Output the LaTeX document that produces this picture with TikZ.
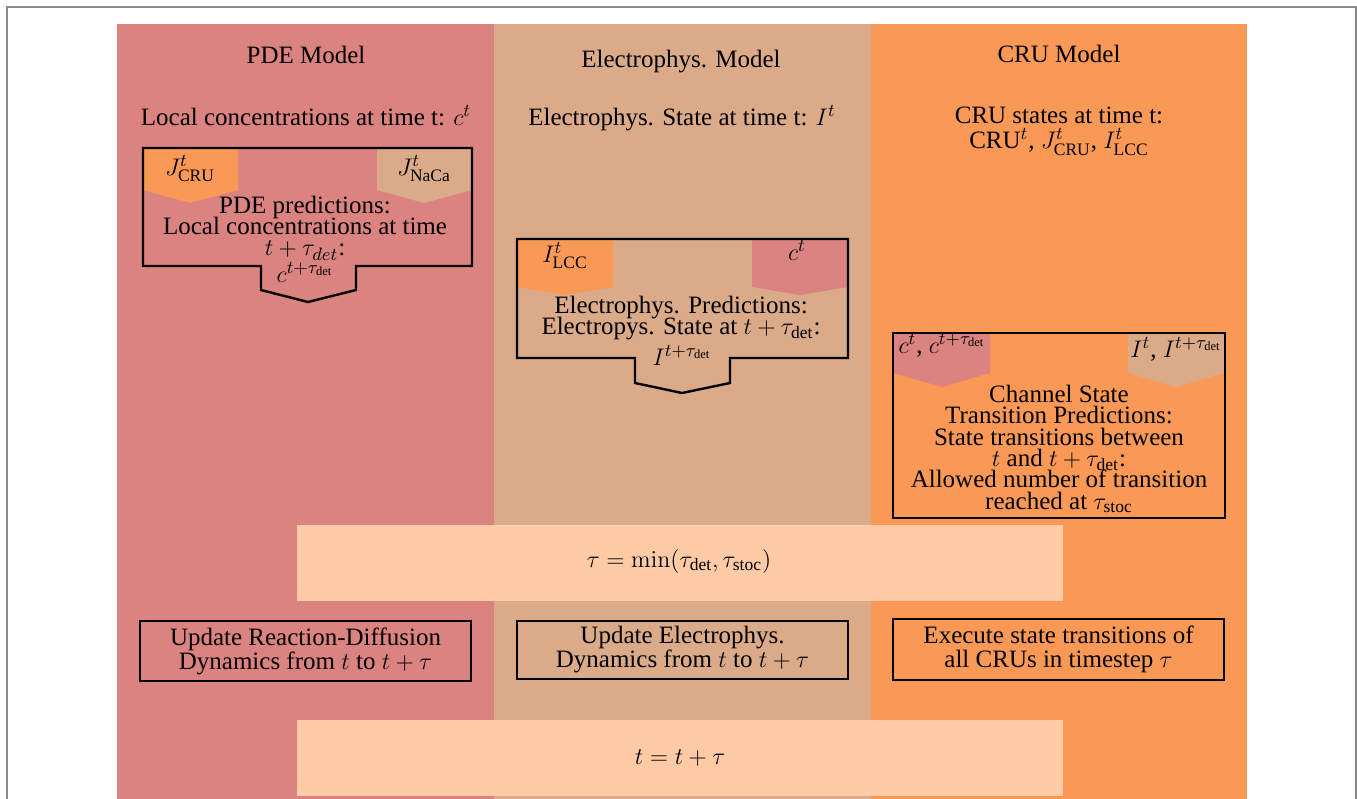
\documentclass[tikz,border=0pt]{standalone}
\usepackage{amsmath}
\usepackage[no-math]{fontspec}
\setmainfont{Liberation Serif}
\definecolor{pde}{HTML}{DB8380}
\definecolor{ele}{HTML}{DBAA88}
\definecolor{cru}{HTML}{F99955}
\definecolor{peach}{HTML}{FECBA6}
\definecolor{framegray}{HTML}{8A8A8A}
\newcommand\tightls{\lineskiplimit -20pt\relax}
\tikzset{
  txt/.style={inner sep=0pt, align=center, font=\fontsize{12.5}{10.7}\selectfont\tightls},
  hdr/.style={inner sep=0pt, align=center, font=\fontsize{12.5}{12.5}\selectfont\tightls},
  lbl/.style={inner sep=0pt, font=\fontsize{12.5}{14}\selectfont},
  boxline/.style={draw=black, line width=1.2pt},
  stepbox/.style={boxline, inner sep=0pt, align=center, minimum width=165.5pt,
    font=\fontsize{12.5}{12}\selectfont\tightls},
}
\begin{document}
\begin{tikzpicture}[x=0.5pt,y=-0.5pt]
\useasboundingbox (0,0) rectangle (1357,799);
% columns
\fill[pde] (117,24) rectangle (494,799);
\fill[ele] (494,24) rectangle (871,799);
\fill[cru] (871,24) rectangle (1247,799);
% frame
\draw[framegray, line width=0.9pt] (7,810) -- (7,7) -- (1356,7) -- (1356,810);

% headers
\node[lbl, anchor=base] (hpde) at (306,63) {PDE Model};
\node[lbl, anchor=base] (hele) at (681,67) {Electrophys. Model};
\node[lbl, anchor=base] (hcru) at (1059,62) {CRU Model};

\node[lbl, anchor=base] (spde) at (306,125) {Local concentrations at time t: $c^t$};
\node[lbl, anchor=base] (sele) at (682,125) {Electrophys. State at time t: $I^t$};
\node[hdr] (scru) at (1059,131) {CRU states at time t:\\ CRU$^t$, $J^t_{\text{CRU}}$, $I^t_{\text{LCC}}$};

% PDE prediction box
\fill[cru] (143,148) -- (238,148) -- (238,190) -- (190,203) -- (143,190) -- cycle;
\fill[ele] (377,148) -- (472,148) -- (472,190) -- (424,203) -- (377,190) -- cycle;
\draw[boxline] (143,148) -- (472,148) -- (472,266) -- (356,266) -- (356,290) -- (308,302)
  -- (261,290) -- (261,266) -- (143,266) -- cycle;
\node[lbl, anchor=base] (jcru) at (190,175) {$J^t_{\text{CRU}}$};
\node[lbl, anchor=base] (jnaca) at (424,175) {$J^t_{\text{NaCa}}$};
\node[txt] (ppde) at (305,228) {PDE predictions:\\ Local concentrations at time\\ $t+\tau_{det}$:};
\node[lbl, anchor=base] (cdet) at (305,282) {$c^{t+\tau_{\text{det}}}$};

% Electrophys prediction box
\fill[cru] (517,239) -- (613,239) -- (613,287) -- (565,295) -- (517,287) -- cycle;
\fill[pde] (752,239) -- (848,239) -- (848,287) -- (800,295) -- (752,287) -- cycle;
\draw[boxline] (517,239) -- (848,239) -- (848,358) -- (730,358) -- (730,383) -- (682,393)
  -- (635,383) -- (635,358) -- (517,358) -- cycle;
\node[lbl, anchor=base] (ilcc) at (565,262) {$I^t_{\text{LCC}}$};
\node[lbl, anchor=base] (ct) at (797,260) {$c^t$};
\node[txt] (pele) at (681,318) {Electrophys. Predictions:\\ Electropys. State at $t+\tau_{\text{det}}$:};
\node[lbl, anchor=base] (idet) at (682,365) {$I^{t+\tau_{\text{det}}}$};

% CRU prediction box
\fill[pde] (893,333) -- (990,333) -- (990,373) -- (942,387) -- (893,373) -- cycle;
\fill[ele] (1128,333) -- (1225,333) -- (1225,373) -- (1176,387) -- (1128,373) -- cycle;
\draw[boxline] (893,333) rectangle (1225,518);
\node[lbl, anchor=base] (cc) at (942,353) {$c^t$, $c^{t+\tau_{\text{det}}}$};
\node[lbl, anchor=base] (ii) at (1176,357) {$I^t$, $I^{t+\tau_{\text{det}}}$};
\node[txt] (pcru) at (1059,449) {Channel State\\ Transition Predictions:\\ State transitions between\\ $t$ and $t+\tau_{\text{det}}$:\\ Allowed number of transition\\ reached at $\tau_{\text{stoc}}$};

% tau bar
\fill[peach] (297,525) rectangle (1063,601);
\node[lbl, anchor=base] (tau) at (679,567) {$\tau = \min(\tau_{\text{det}}, \tau_{\text{stoc}})$};

% update boxes
\node[stepbox, minimum height=30pt] (u1) at (305.5,651) {Update Reaction-Diffusion\\ Dynamics from $t$ to $t+\tau$};
\node[stepbox, minimum height=29pt] (u2) at (682.5,650) {Update Electrophys.\\ Dynamics from $t$ to $t+\tau$};
\node[stepbox, minimum height=30.5pt] (u3) at (1058.5,649.5) {Execute state transitions of\\ all CRUs in timestep $\tau$};

% t bar
\fill[peach] (297,720) rectangle (1063,796);
\node[lbl, anchor=base] (tt) at (680,764) {$t = t+\tau$};
\end{tikzpicture}
\end{document}
